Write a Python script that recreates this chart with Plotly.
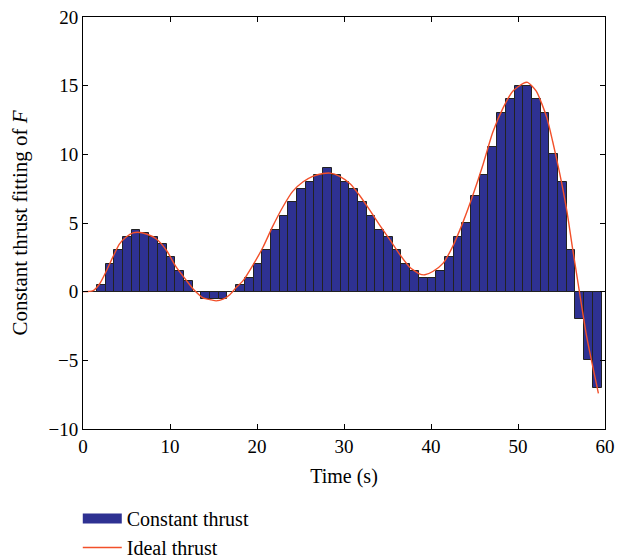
import plotly.graph_objects as go

# Constant thrust (bars), one per second
bar_time = list(range(1, 60))
bar_thrust = [0, 0.5, 2, 3, 4, 4.5, 4.3, 4, 3.5, 2.5, 1.5, 0.8,
              0, -0.5, -0.5, -0.5, 0,
              0.5, 1, 2, 3, 4.5, 5.5, 6.5, 7.5, 8, 8.5, 9,
              8.5, 8, 7.5, 6.5, 5.5, 4.5, 4, 3, 2,
              1.5, 1, 1, 1.5, 2.5, 4, 5, 7, 8.5, 10.5, 13, 14,
              15, 15, 14, 13, 10, 8, 3, -2, -5, -7]

# Ideal thrust curve (read points)
ideal_time = [0, 1.1, 1.9, 2.7, 3.45, 4.2, 5.0, 5.75, 6.3, 7.3, 8.4, 9.6, 10.7, 11.9,
              12.8, 13.8, 14.75, 15.3, 16.1, 16.9, 17.6, 18.4, 19.5, 20.7, 21.8, 23.0,
              24.1, 25.3, 26.4, 27.6, 28.4, 29.5, 30.7, 31.8, 33.0, 34.1, 35.3, 36.4,
              37.5, 38.65, 39.3, 40.2, 41.4, 42.5, 43.7, 44.8, 46.0, 47.1, 48.3, 49.4,
              50.6, 51.1, 52.1, 53.3, 54.0, 54.8, 55.6, 56.3, 56.9, 57.9, 59.24]
ideal_thrust = [0, 0.05, 0.56, 1.53, 2.55, 3.48, 4.0, 4.28, 4.33, 4.2, 3.85, 3.0, 1.8, 0.8,
                0.1, -0.45, -0.6, -0.67, -0.55, -0.2, 0.3, 0.8, 1.9, 3.25, 4.75, 6.2,
                7.3, 8.0, 8.4, 8.6, 8.63, 8.4, 7.86, 7.0, 5.9, 4.85, 3.75, 2.72,
                1.82, 1.3, 1.23, 1.47, 2.08, 3.3, 5.1, 7.0, 9.3, 11.6, 13.4, 14.6,
                15.17, 15.24, 14.6, 12.7, 10.9, 8.6, 5.94, 3.04, 0.63, -3.3, -7.4]

x_ticks = [0, 10, 20, 30, 40, 50, 60]
y_ticks = [-10, -5, 0, 5, 10, 15, 20]

FONT = "Liberation Serif"
BAR_COLOR = "#2E3192"
LINE_COLOR = "#F2502A"

fig = go.Figure()
fig.add_trace(go.Bar(
    x=bar_time, y=bar_thrust, width=1, offset=-0.4,
    marker=dict(color=BAR_COLOR, line=dict(color="#222222", width=1)),
    name="Constant thrust", showlegend=False,
))
# legend-only entry giving a wide rectangular swatch for the bars
fig.add_trace(go.Scatter(
    x=[None], y=[None], mode="lines",
    line=dict(color=BAR_COLOR, width=11),
    name="Constant thrust", showlegend=True,
))
fig.add_trace(go.Scatter(
    x=ideal_time, y=ideal_thrust, mode="lines",
    line=dict(color=LINE_COLOR, width=1.4, shape="spline", smoothing=0.6),
    name="Ideal thrust",
))

axis_common = dict(
    showline=True, linecolor="black", linewidth=1, mirror="ticks",
    ticks="inside", ticklen=5, tickcolor="black", tickwidth=1,
    showgrid=False, tickfont=dict(family=FONT, size=19, color="black"),
)

fig.update_layout(
    width=618, height=559,
    margin=dict(l=83, r=13, t=17, b=130, autoexpand=False),
    plot_bgcolor="white", paper_bgcolor="white",
    font=dict(family=FONT, size=19, color="black"),
    bargap=0,
    showlegend=True,
    legend=dict(
        orientation="v", x=-0.01, xanchor="left", y=-0.17, yanchor="top",
        font=dict(family=FONT, size=20, color="black"),
        bgcolor="rgba(0,0,0,0)", tracegroupgap=2, itemwidth=39,
    ),
    xaxis=dict(
        range=[0, 60], tickvals=x_ticks, ticktext=[str(v) for v in x_ticks],
        zeroline=False,
        title=dict(text="Time (s)", font=dict(family=FONT, size=20), standoff=13),
        **axis_common,
    ),
    yaxis=dict(
        range=[-10, 20], tickvals=y_ticks,
        ticktext=[("\u2212" + str(-v)) if v < 0 else str(v) for v in y_ticks],
        zeroline=True, zerolinecolor="black", zerolinewidth=1,
        title=dict(text="Constant thrust fitting of <i>F</i>", font=dict(family=FONT, size=21), standoff=15),
        **axis_common,
    ),
)

fig.write_html("out.html")
